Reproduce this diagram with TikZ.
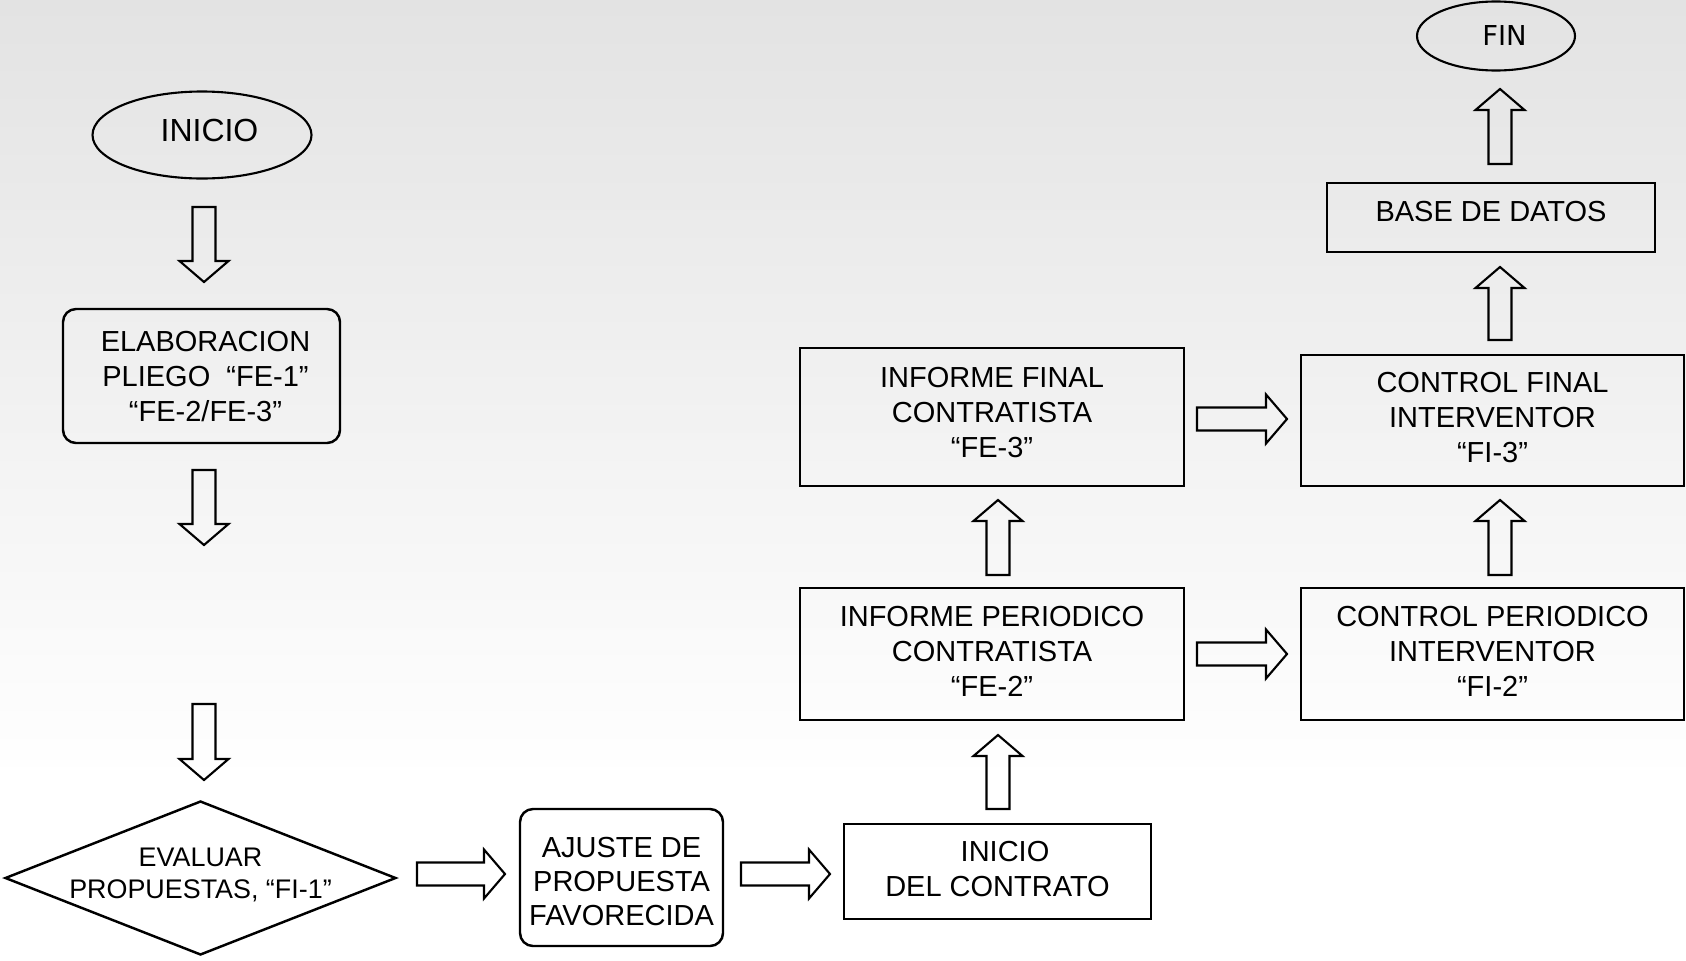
\documentclass[tikz,border=0pt]{standalone}
\usepackage{fontspec}
\setmainfont{Liberation Sans}
\newfontfamily\finfont{DejaVu Sans}
\usetikzlibrary{shapes.geometric,calc}

\begin{document}
\begin{tikzpicture}[
    proc/.style={draw, line width=0.7pt, minimum width=3.84cm, minimum height=1.32cm, inner sep=0pt, align=center, text depth=0.06cm, font=\fontsize{8.25}{9.95}\selectfont},
    rproc/.style={proc, rounded corners=0.13cm},
    term/.style={draw, ellipse, line width=0.6pt, inner sep=0pt, font=\fontsize{9.1}{10}\selectfont},
    decision/.style={draw, diamond, line width=0.7pt, minimum width=3.91cm, minimum height=1.54cm, inner sep=0pt, font=\fontsize{7.65}{9.1}\selectfont},
    blkarr/.style={line width=0.6pt, to path={
        ($(\tikztotarget)!0.21cm!(\tikztostart)$) coordinate (hb)
        ($(\tikztostart)!0.115cm!90:(\tikztotarget)$) -- ($(hb)!0.115cm!90:(\tikztotarget)$)
        -- ($(hb)!0.245cm!90:(\tikztotarget)$) -- (\tikztotarget)
        -- ($(hb)!0.245cm!-90:(\tikztotarget)$) -- ($(hb)!0.115cm!-90:(\tikztotarget)$)
        -- ($(\tikztostart)!0.115cm!-90:(\tikztotarget)$) -- cycle}}
]
% background
\useasboundingbox (0,0) rectangle (16.86,9.6);
\fill[white] (0,0) rectangle (16.86,1.8);
\fill[top color=black!11, bottom color=white] (0,1.8) rectangle (16.86,9.6);

% left column
\node[term, minimum width=2.19cm, minimum height=0.87cm, text depth=0.086cm] (inicio) at (2.02,8.25) {\hspace{0.15cm}INICIO};
\node[rproc, minimum width=2.77cm, minimum height=1.34cm, text depth=0pt] (elab) at (2.015,5.84) {\hspace{0.08cm}ELABORACION\\\hspace{0.08cm}PLIEGO\ \ “FE-1”\\\hspace{0.08cm}“FE-2/FE-3”};
\node[decision] (eval) at (2.005,0.82) {\smash{\makebox[0pt]{\raisebox{-0.055cm}{\begin{tabular}[c]{@{}c@{}}EVALUAR\\PROPUESTAS, “FI-1”\end{tabular}}}}};

% bottom row
\node[rproc, minimum width=2.03cm, minimum height=1.37cm, text depth=0pt, font=\fontsize{8.25}{9.8}\selectfont] (ajuste) at (6.215,0.825) {\rule{0pt}{0.28cm}AJUSTE DE\\PROPUESTA\\FAVORECIDA};
\node[proc, minimum width=3.07cm, minimum height=0.95cm] (inicont) at (9.975,0.885) {\hspace{0.15cm}INICIO\\DEL CONTRATO};

% contratista / interventor
\node[proc] (iper) at (9.92,3.06) {INFORME PERIODICO\\CONTRATISTA\\“FE-2”};
\node[proc, minimum height=1.38cm, text depth=0.1cm] (ifin) at (9.92,5.43) {INFORME FINAL\\CONTRATISTA\\“FE-3”};
\node[proc, minimum width=3.83cm] (cper) at (14.925,3.06) {CONTROL PERIODICO\\INTERVENTOR\\“FI-2”};
\node[proc, minimum width=3.83cm, minimum height=1.31cm] (cfin) at (14.925,5.395) {CONTROL FINAL\\INTERVENTOR\\“FI-3”};
\node[proc, minimum width=3.28cm, minimum height=0.69cm, text depth=0.13cm] (bd) at (14.91,7.425) {BASE DE DATOS};
\node[term, minimum width=1.58cm, minimum height=0.69cm, font=\finfont\fontsize{7.8}{9}\selectfont] (fin) at (14.96,9.24) {\hspace{0.17cm}FIN};

% arrow ends
\coordinate (a1s) at (2.04,7.53);  \coordinate (a1e) at (2.04,6.78);
\coordinate (a2s) at (2.04,4.90);  \coordinate (a2e) at (2.04,4.15);
\coordinate (a3s) at (2.04,2.56);  \coordinate (a3e) at (2.04,1.80);
\coordinate (a4s) at (4.17,0.86);  \coordinate (a4e) at (5.05,0.86);
\coordinate (a5s) at (7.41,0.86);  \coordinate (a5e) at (8.30,0.86);
\coordinate (a6s) at (9.98,1.51);  \coordinate (a6e) at (9.98,2.25);
\coordinate (a7s) at (9.98,3.85);  \coordinate (a7e) at (9.98,4.60);
\coordinate (a8s) at (11.97,5.41); \coordinate (a8e) at (12.87,5.41);
\coordinate (a9s) at (11.97,3.06); \coordinate (a9e) at (12.87,3.06);
\coordinate (a10s) at (15.00,3.85); \coordinate (a10e) at (15.00,4.60);
\coordinate (a11s) at (15.00,6.20); \coordinate (a11e) at (15.00,6.93);
\coordinate (a12s) at (15.00,7.96); \coordinate (a12e) at (15.00,8.71);

\foreach \i in {1,...,12}
    \draw[blkarr] (a\i s) to (a\i e);
\end{tikzpicture}
\end{document}
